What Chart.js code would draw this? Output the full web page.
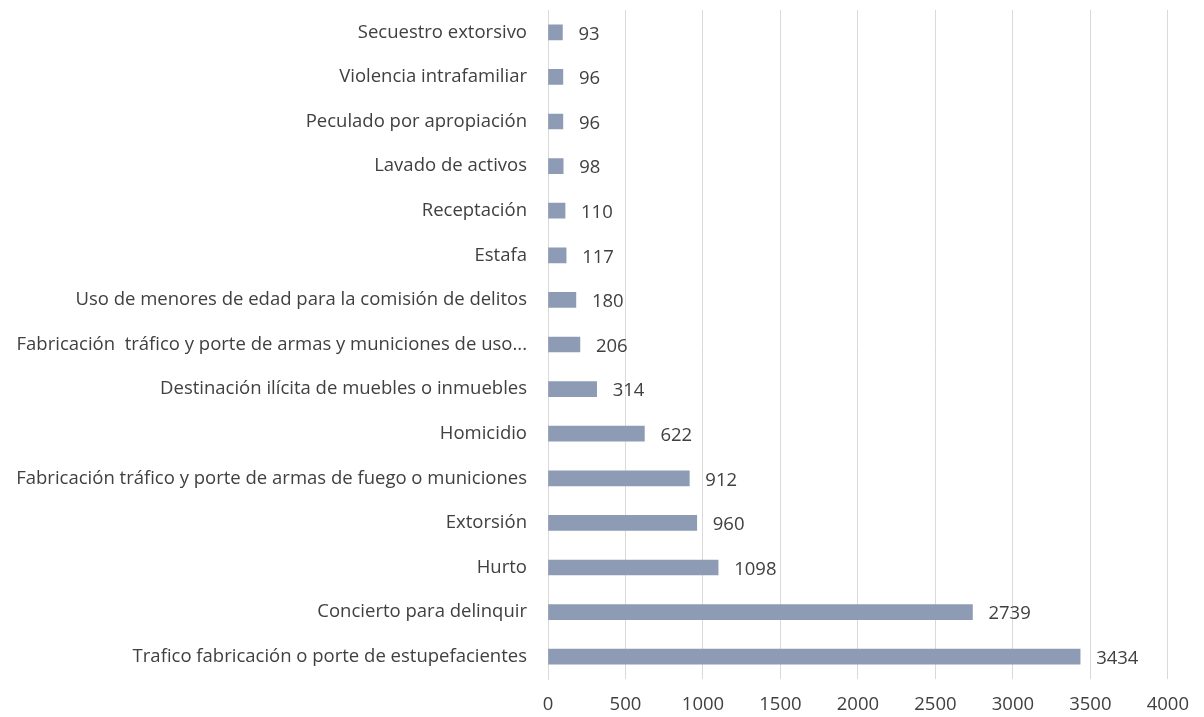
<!DOCTYPE html>
<html lang="es">
    <head>
        <meta charset="UTF-8" />
        <title>Delitos</title>
        <script src="https://cdn.jsdelivr.net/npm/chart.js"></script>
        <style>
            html, body { margin: 0; padding: 0; background: #fff; }
            #wrap { width: 1204px; height: 717px; }
        </style>
    </head>
    <body>
        <div id="wrap"><canvas id="chart"></canvas></div>
        <script>
            const categorias = [
                "Secuestro extorsivo",
                "Violencia intrafamiliar",
                "Peculado por apropiación",
                "Lavado de activos",
                "Receptación",
                "Estafa",
                "Uso de menores de edad para la comisión de delitos",
                "Fabricación  tráfico y porte de armas y municiones de uso...",
                "Destinación ilícita de muebles o inmuebles",
                "Homicidio",
                "Fabricación tráfico y porte de armas de fuego o municiones",
                "Extorsión",
                "Hurto",
                "Concierto para delinquir",
                "Trafico fabricación o porte de estupefacientes",
            ];
            const valores = [93, 96, 96, 98, 110, 117, 180, 206, 314, 622, 912, 960, 1098, 2739, 3434];
            const ejeX = [0, 500, 1000, 1500, 2000, 2500, 3000, 3500, 4000];

            const fuente = "'Open Sans', Lato, sans-serif";
            const gris = "#404040";

            // etiquetas de valor a la derecha de cada barra
            const etiquetas = {
                id: "etiquetas",
                afterDatasetsDraw(chart) {
                    const ctx = chart.ctx;
                    const meta = chart.getDatasetMeta(0);
                    ctx.save();
                    ctx.font = "18.5px " + fuente;
                    ctx.fillStyle = gris;
                    ctx.textAlign = "left";
                    ctx.textBaseline = "middle";
                    meta.data.forEach((bar, i) => {
                        ctx.fillText(String(valores[i]), bar.x + 16, bar.y + 2);
                    });
                    ctx.restore();
                },
            };

            new Chart(document.getElementById("chart"), {
                type: "bar",
                data: {
                    labels: categorias,
                    datasets: [
                        {
                            data: valores,
                            backgroundColor: "#8E9BB5",
                            barThickness: 15,
                        },
                    ],
                },
                options: {
                    indexAxis: "y",
                    responsive: true,
                    maintainAspectRatio: false,
                    animation: false,
                    layout: { padding: { top: 10, right: 29, bottom: 0, left: 0 } },
                    plugins: {
                        legend: { display: false },
                        tooltip: { enabled: false },
                    },
                    scales: {
                        x: {
                            min: 0,
                            max: 4000,
                            afterBuildTicks: (s) => {
                                s.ticks = ejeX.map((v) => ({ value: v }));
                            },
                            afterFit: (s) => {
                                s.height = 38;
                            },
                            grid: { color: "#d9d9d9", drawTicks: false },
                            border: { display: false },
                            ticks: {
                                padding: 15,
                                color: gris,
                                font: { family: fuente, size: 18.5 },
                                maxRotation: 0,
                                callback: (v) => String(v),
                            },
                        },
                        y: {
                            afterFit: (s) => {
                                s.width = 548;
                                s.paddingTop = 0;
                                s.paddingBottom = 0;
                            },
                            grid: { display: false, drawTicks: false },
                            border: { display: true, color: "#d9d9d9" },
                            ticks: {
                                padding: 21,
                                color: gris,
                                font: { family: fuente, size: 18.5 },
                                autoSkip: false,
                            },
                        },
                    },
                },
                plugins: [etiquetas],
            });
        </script>
    </body>
</html>
